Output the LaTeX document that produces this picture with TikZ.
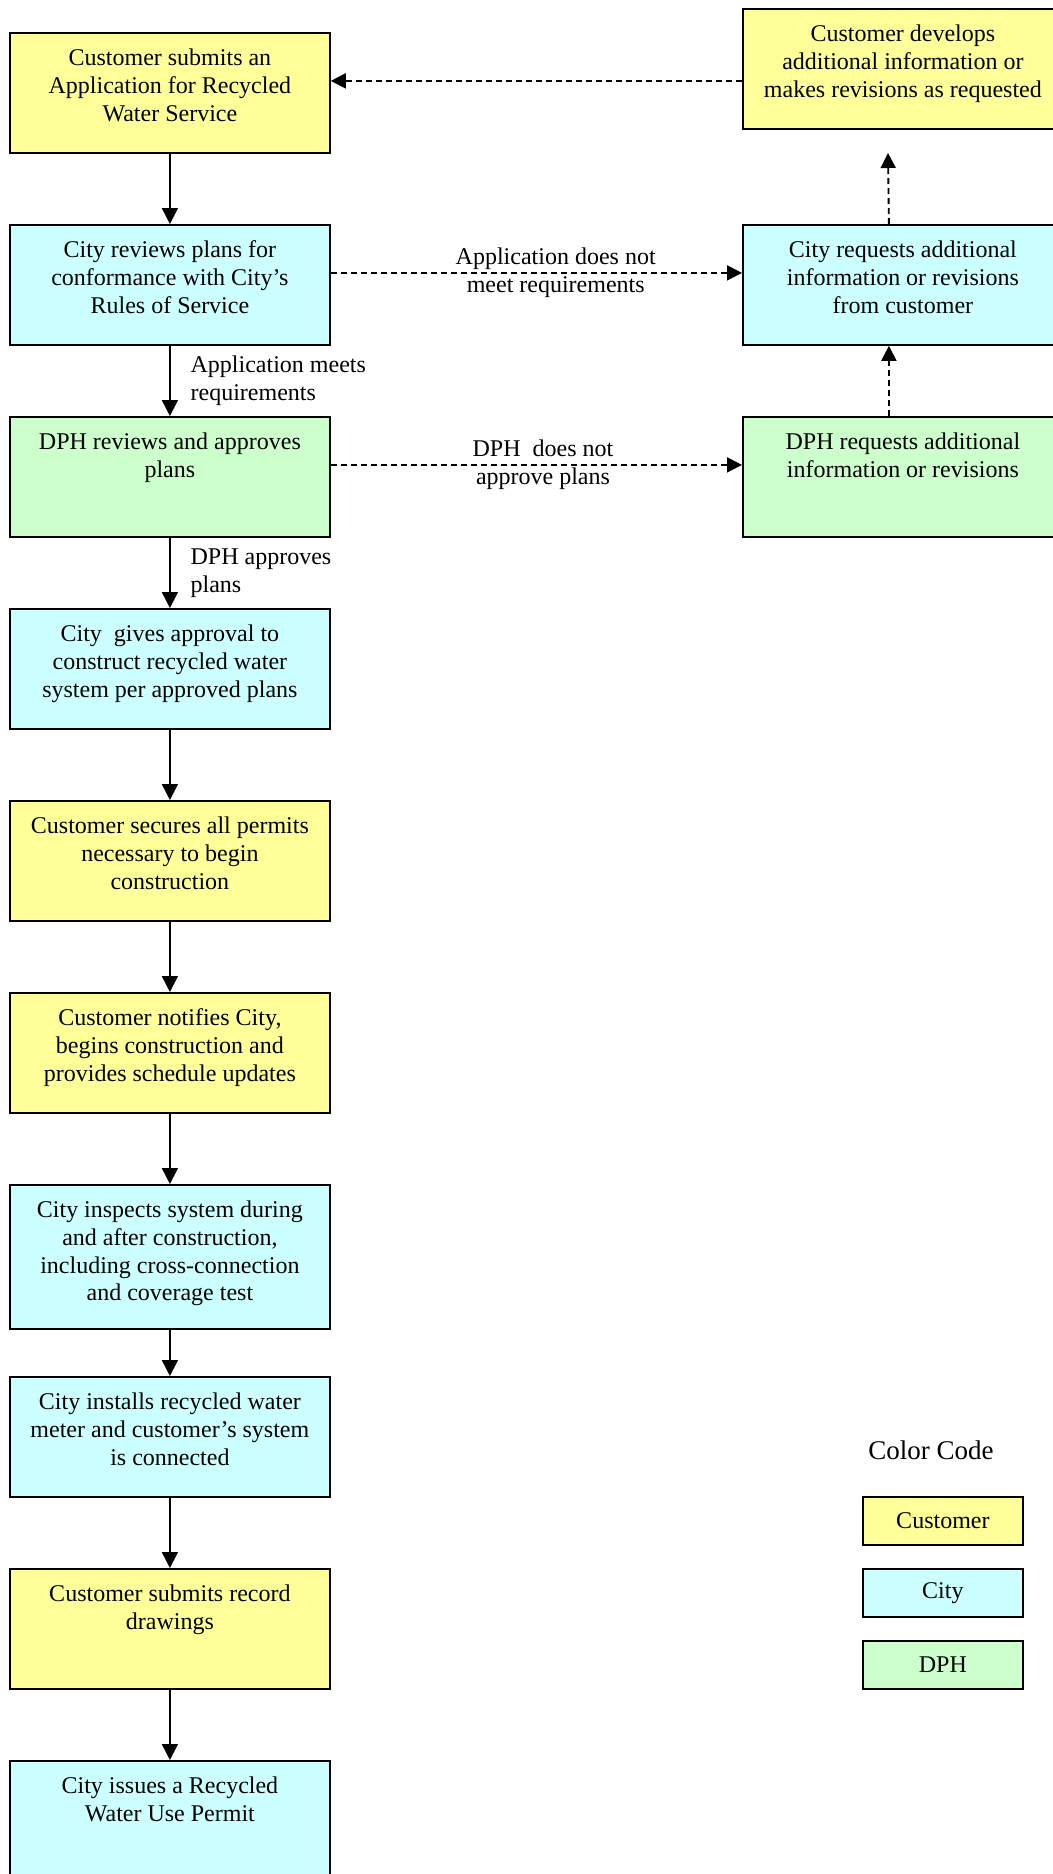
\documentclass[tikz,border=0pt]{standalone}
\usepackage{fontspec}
\setmainfont{Liberation Serif}
\usetikzlibrary{arrows.meta}
\definecolor{custY}{HTML}{FFFF99}
\definecolor{cityC}{HTML}{CCFFFF}
\definecolor{dphG}{HTML}{CCFFCC}
\newcommand{\boxtext}[2]{\parbox[t][#1][t]{160pt}{\centering\rule{0pt}{16.5pt}#2}}
\begin{document}
\begin{tikzpicture}[x=0.5pt,y=-0.5pt,
  every node/.style={font=\fontsize{12pt}{13.8pt}\selectfont},
  stepbox/.style={draw, line width=0.9pt, fill=#1, inner sep=0pt, anchor=north west},
  solidarrow/.style={line width=0.75pt, -{Triangle[length=8pt,width=8pt]}},
  dasharrow/.style={line width=0.95pt, dash pattern=on 3pt off 2pt, -{Triangle[length=7.5pt,width=7.5pt]}},
  edgelabel/.style={align=center, inner sep=0pt},
  sidelabel/.style={align=left, anchor=west, inner sep=0pt},
  legendbox/.style={draw, line width=0.9pt, fill=#1, inner sep=0pt, minimum width=80pt, minimum height=24pt, anchor=north west}]
\useasboundingbox (0,0) rectangle (1053,1874);
\clip (0,0) rectangle (1053,1874);

% main column
\node[stepbox=custY] (b1) at (9,32) {\boxtext{60pt}{Customer submits an\\Application for Recycled\\Water Service}};
\node[stepbox=cityC] (b2) at (9,224) {\boxtext{60pt}{City reviews plans for\\conformance with City’s\\Rules of Service}};
\node[stepbox=dphG] (b3) at (9,416) {\boxtext{60pt}{DPH reviews and approves\\plans}};
\node[stepbox=cityC] (b4) at (9,608) {\boxtext{60pt}{City~ gives approval to\\construct recycled water\\system per approved plans}};
\node[stepbox=custY] (b5) at (9,800) {\boxtext{60pt}{Customer secures all permits\\necessary to begin\\construction}};
\node[stepbox=custY] (b6) at (9,992) {\boxtext{60pt}{Customer notifies City,\\begins construction and\\provides schedule updates}};
\node[stepbox=cityC] (b7) at (9,1184) {\boxtext{72pt}{City inspects system during\\and after construction,\\including cross-connection\\and coverage test}};
\node[stepbox=cityC] (b8) at (9,1376) {\boxtext{60pt}{City installs recycled water\\meter and customer’s system\\is connected}};
\node[stepbox=custY] (b9) at (9,1568) {\boxtext{60pt}{Customer submits record\\drawings}};
\node[stepbox=cityC] (b10) at (9,1760) {\boxtext{60pt}{City issues a Recycled\\Water Use Permit}};

% right column
\node[stepbox=custY] (r1) at (742,8) {\boxtext{60pt}{Customer develops\\additional information or\\makes revisions as requested}};
\node[stepbox=cityC] (r2) at (742,224) {\boxtext{60pt}{City requests additional\\information or revisions\\from customer}};
\node[stepbox=dphG] (r3) at (742,416) {\boxtext{60pt}{DPH requests additional\\information or revisions}};

% main arrows
\draw[solidarrow] (b1) -- (b2);
\draw[solidarrow] (b2) -- (b3) node[sidelabel, midway, xshift=10pt] {Application meets\\requirements};
\draw[solidarrow] (b3) -- (b4) node[sidelabel, midway, xshift=10pt] {DPH approves\\plans};
\draw[solidarrow] (b4) -- (b5);
\draw[solidarrow] (b5) -- (b6);
\draw[solidarrow] (b6) -- (b7);
\draw[solidarrow] (b7) -- (b8);
\draw[solidarrow] (b8) -- (b9);
\draw[solidarrow] (b9) -- (b10);

% dashed arrows
\draw[dasharrow] ([yshift=-6pt]r1.west) -- ([yshift=6pt]b1.east);
\draw[dasharrow] ([yshift=6pt]b2.east) -- ([yshift=6pt]r2.west)
  node[edgelabel, pos=0.547] {Application does not\\meet requirements};
\draw[dasharrow] ([yshift=6pt]b3.east) -- ([yshift=6pt]r3.west)
  node[edgelabel, pos=0.516] {DPH~ does not\\approve plans};
\coordinate (up1) at (888,153);
\draw[dasharrow] ([xshift=-7pt]r2.north) -- (up1);
\draw[dasharrow] ([xshift=-7pt]r3.north) -- ([xshift=-7pt]r2.south);

% legend
\node[anchor=west, inner sep=0pt, font=\fontsize{13.5pt}{16pt}\selectfont] (cc) at (868,1450) {Color Code};
\node[legendbox=custY] (lcust) at (862,1496) {Customer};
\node[legendbox=cityC] (lcity) at (862,1568) {City};
\node[legendbox=dphG] (ldph) at (862,1640) {DPH};
\end{tikzpicture}
\end{document}
